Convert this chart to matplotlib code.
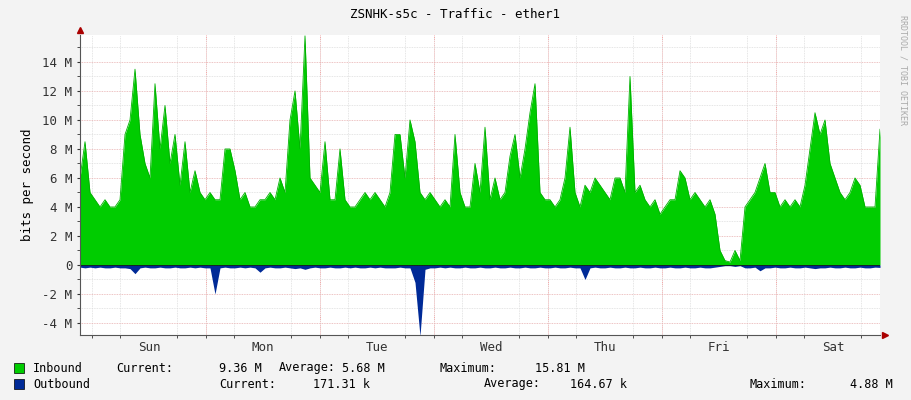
import numpy as np
import matplotlib
matplotlib.use("Agg")
import matplotlib.pyplot as plt
from matplotlib.ticker import MultipleLocator, FuncFormatter

title = "ZSNHK-s5c - Traffic - ether1"
days = ["Sun", "Mon", "Tue", "Wed", "Thu", "Fri", "Sat"]
t_start, t_end = -0.105, 6.913  # days relative to Sunday 00:00

inbound = [6, 8.5, 5, 4.5, 4, 4.5, 4, 4, 4.5, 9, 10, 13.5, 9, 7, 6, 12.5, 8, 11, 7, 9,
           5.5, 8.5, 5, 6.5, 5, 4.5, 5, 4.5, 4.5, 8, 8, 6.5, 4.5, 5, 4, 4, 4.5, 4.5, 5, 4.5,
           6, 5, 10, 12, 8, 15.8, 6, 5.5, 5, 8.5, 4.5, 4.5, 8, 4.5, 4, 4, 4.5, 5, 4.5, 5,
           4.5, 4, 5, 9, 9, 6, 10, 8.5, 5, 4.5, 5, 4.5, 4, 4.5, 4, 9, 5, 4, 4, 7,
           5, 9.5, 4.5, 6, 4.5, 5, 7.5, 9, 6, 8, 10.5, 12.5, 5, 4.5, 4.5, 4, 4.5, 6, 9.5, 5,
           4, 5.5, 5, 6, 5.5, 5, 4.5, 6, 6, 5, 13, 5, 5.5, 4.5, 4, 4.5, 3.5, 4, 4.5, 4.5,
           6.5, 6, 4.5, 5, 4.5, 4, 4.5, 3.5, 1, 0.3, 0.2, 1, 0.3, 4, 4.5, 5, 6, 7, 5, 5,
           4, 4.5, 4, 4.5, 4, 5.5, 8, 10.5, 9, 10, 7, 6, 5, 4.5, 5, 6, 5.5, 4, 4, 4, 9.36]

outbound = [-0.15, -0.2, -0.15, -0.2, -0.15, -0.2, -0.2, -0.15, -0.2, -0.2, -0.25, -0.6, -0.2, -0.15, -0.2, -0.2, -0.15, -0.2, -0.2, -0.15,
            -0.2, -0.2, -0.15, -0.2, -0.15, -0.2, -0.2, -2.0, -0.2, -0.15, -0.2, -0.2, -0.15, -0.2, -0.15, -0.2, -0.5, -0.2, -0.15, -0.2,
            -0.2, -0.15, -0.2, -0.25, -0.2, -0.3, -0.2, -0.15, -0.2, -0.2, -0.15, -0.2, -0.2, -0.15, -0.2, -0.15, -0.2, -0.2, -0.15, -0.2,
            -0.15, -0.2, -0.2, -0.2, -0.15, -0.2, -0.2, -1.2, -4.9, -0.3, -0.2, -0.2, -0.15, -0.2, -0.15, -0.2, -0.2, -0.15, -0.2, -0.2,
            -0.15, -0.2, -0.2, -0.15, -0.2, -0.2, -0.15, -0.2, -0.2, -0.15, -0.2, -0.2, -0.15, -0.2, -0.2, -0.15, -0.2, -0.2, -0.15, -0.2,
            -0.2, -1.0, -0.2, -0.15, -0.2, -0.2, -0.15, -0.2, -0.2, -0.15, -0.2, -0.2, -0.15, -0.2, -0.2, -0.15, -0.2, -0.2, -0.15, -0.2,
            -0.2, -0.15, -0.2, -0.2, -0.15, -0.2, -0.2, -0.15, -0.1, -0.05, -0.05, -0.1, -0.05, -0.2, -0.2, -0.15, -0.4, -0.2, -0.2, -0.15,
            -0.2, -0.2, -0.15, -0.2, -0.2, -0.15, -0.2, -0.25, -0.2, -0.2, -0.15, -0.2, -0.2, -0.15, -0.2, -0.2, -0.15, -0.2, -0.2, -0.15, -0.17]

legend_rows = [
    ("Inbound", "#00CC00", [("Current:", 116, "9.36 M", 262), ("Average:", 279, "5.68 M", 385), ("Maximum:", 440, "15.81 M", 585)]),
    ("Outbound", "#002A97", [("Current:", 219, "171.31 k", 370), ("Average:", 484, "164.67 k", 627), ("Maximum:", 749, "4.88 M", 893)]),
]

W, H = 911, 400
FS = 8
fig = plt.figure(figsize=(W / 100, H / 100), dpi=100, facecolor="#F3F3F3")
ax = fig.add_axes([80 / W, (H - 335) / H, 800 / W, 300 / H], facecolor="white")

x = np.linspace(t_start, t_end, len(inbound))
inb = np.array(inbound) * 1e6
outb = np.array(outbound) * 1e6
ax.fill_between(x, 0, inb, color="#00CC00", lw=0)
ax.plot(x, inb, color="#00B000", lw=0.6)
ax.fill_between(x, 0, outb, color="#002A97", lw=0)

ax.set_xlim(t_start, t_end)
ax.set_ylim(-4.83e6, 15.86e6)

ax.xaxis.set_minor_locator(MultipleLocator(0.25))
ax.set_xticks([i + 0.5 for i in range(len(days))])
ax.set_xticklabels(days)
ax.yaxis.set_major_locator(MultipleLocator(2e6))
ax.yaxis.set_minor_locator(MultipleLocator(1e6))
ax.yaxis.set_major_formatter(FuncFormatter(lambda v, p: "0" if abs(v) < 1 else f"{v/1e6:.0f} M"))

ax.grid(which="minor", color="#DDDDDD", lw=0.6, ls=(0, (1, 1)))
ax.grid(which="major", axis="y", color="#E8B0B0", lw=0.6, ls=(0, (1, 1)))
for d in range(1, 7):
    ax.axvline(d, color="#FF9999", lw=0.7, ls=(0, (1, 1)), zorder=0.5)
ax.set_axisbelow(True)
ax.axhline(0, color="black", lw=0.5)

for s in ["top", "right"]:
    ax.spines[s].set_visible(False)
ax.spines["left"].set_color("#555555")
ax.spines["bottom"].set_color("#555555")
ax.tick_params(axis="both", which="both", labelsize=9, colors="#333333", length=2)
ax.tick_params(axis="x", which="major", length=0, pad=4)
for lab in ax.get_xticklabels() + ax.get_yticklabels():
    lab.set_fontfamily("DejaVu Sans Mono")
ax.plot([1.006], [0], marker=">", color="#AA0000", ms=4, transform=ax.transAxes, clip_on=False)
ax.plot([0], [1.016], marker="^", color="#AA0000", ms=4, transform=ax.transAxes, clip_on=False)

ax.set_ylabel("bits per second", fontsize=9, family="DejaVu Sans Mono", labelpad=6)
fig.text(455 / W, 1 - 14 / H, title, ha="center", va="center", fontsize=9, family="DejaVu Sans Mono")
fig.text(903 / W, 1 - 70 / H, "RRDTOOL / TOBI OETIKER", rotation=270, ha="center", va="center",
         fontsize=6, color="#AAAAAA", family="DejaVu Sans Mono")

for i, (name, col, items) in enumerate(legend_rows):
    yy = 1 - (368 + 16 * i) / H
    fig.patches.append(plt.Rectangle((14 / W, yy - 5 / H), 10 / W, 10 / H, transform=fig.transFigure,
                                     facecolor=col, edgecolor="black", lw=0.5))
    fig.text(33 / W, yy, name, va="center", fontsize=FS + 0.5, family="DejaVu Sans Mono")
    for lab, lx, val, vx in items:
        fig.text(lx / W, yy, lab, va="center", fontsize=FS + 0.5, family="DejaVu Sans Mono")
        fig.text(vx / W, yy, val, va="center", ha="right", fontsize=FS + 0.5, family="DejaVu Sans Mono")

fig.savefig("out.png", dpi=100, facecolor=fig.get_facecolor())
